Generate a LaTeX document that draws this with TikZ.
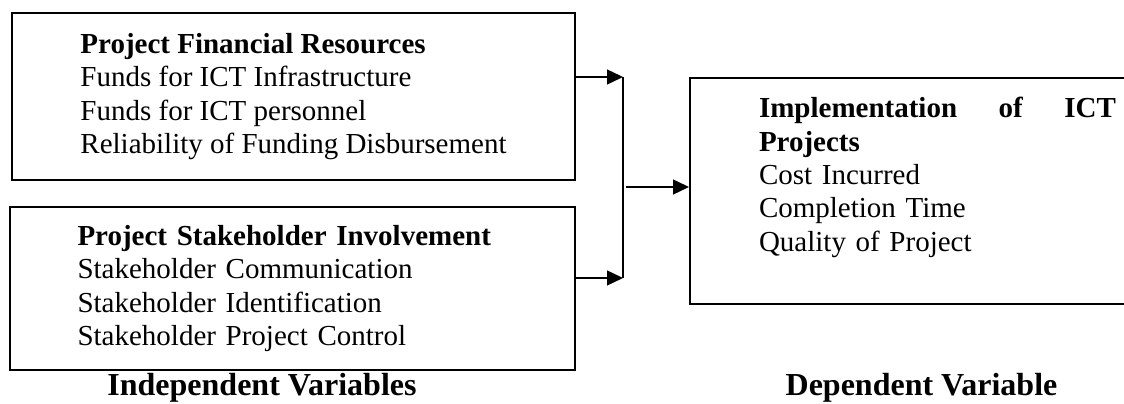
\documentclass[tikz,border=0pt]{standalone}
\usepackage{fontspec}
\setmainfont{Liberation Serif}
\usetikzlibrary{arrows.meta,positioning}

\begin{document}
\begin{tikzpicture}[
    x=1pt, y=1pt,
    varbox/.style={rectangle, draw=black, line width=2pt, align=left, inner sep=0pt,
                   font=\fontsize{29}{33.4}\selectfont},
    caption/.style={font=\fontsize{32}{36}\selectfont\bfseries, inner sep=0pt},
    flow/.style={-{Triangle[length=16pt,width=15pt]}, line width=1.3pt},
    bar/.style={line width=1.7pt}
]
\path[use as bounding box, clip] (0,0) rectangle (1124,404);
\node[varbox, minimum width=563pt, minimum height=167pt] (fin) at (293.5,307.5)
    {\textbf{Project Financial Resources}\\ Funds for ICT Infrastructure\\ Funds for ICT personnel\\ Reliability of Funding Disbursement};
\node[varbox, minimum width=565pt, minimum height=163pt, text width=430pt] (stake) at (292.5,115.5)
    {\textbf{Project Stakeholder Involvement}\\ Stakeholder Communication\\ Stakeholder Identification\\ Stakeholder Project Control};
\node[varbox, anchor=north west, minimum height=226pt, text width=357pt, inner xsep=69pt] (impl) at (689,327)
    {\textbf{Implementation\hfill of\hfill ICT}\\ \textbf{Projects}\\ Cost Incurred\\ Completion Time\\ Quality of Project\\ \mbox{}};
\node[caption, anchor=base] (indep) at (262,8) {Independent Variables};
\node[caption, anchor=base] (dep) at (921.5,8) {Dependent Variable};
\coordinate (j1) at (623,327);
\coordinate (j2) at (623,126);
\coordinate (jm) at (626,217);
\draw[flow] (fin.east |- j1) -- (j1);
\draw[flow] (stake.east |- j2) -- (j2);
\draw[bar] (j1) -- (j2);
\draw[flow] (jm) -- (jm -| impl.west);
\end{tikzpicture}
\end{document}
